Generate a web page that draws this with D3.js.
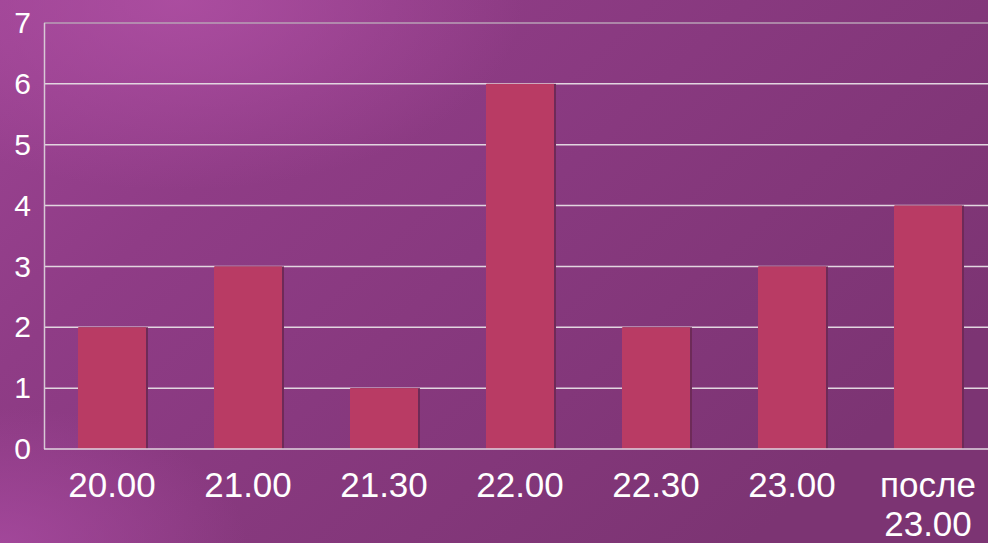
<!DOCTYPE html>
<html>
<head>
<meta charset="utf-8">
<script src="https://cdn.jsdelivr.net/npm/d3@7"></script>
<style>
  body { margin: 0; overflow: hidden; background: #8a3a80; }
  text { font-family: "Liberation Sans", Arial, sans-serif; fill: #fff; }
</style>
</head>
<body>
<div id="chart"></div>
<script>
var svgWidth = 988;
var svgHeight = 543;

var categories = ["20.00", "21.00", "21.30", "22.00", "22.30", "23.00", "после 23.00"];
var values = [2, 3, 1, 6, 2, 3, 4];
var yTicks = [0, 1, 2, 3, 4, 5, 6, 7];

var margin = { top: 23, right: -8, bottom: 94, left: 44 };
var width = svgWidth - margin.left - margin.right;
var height = svgHeight - margin.top - margin.bottom;

var svg = d3.select("#chart")
  .append("svg")
  .attr("width", svgWidth)
  .attr("height", svgHeight);

// background gradient
var defs = svg.append("defs");
var bg = defs.append("linearGradient")
  .attr("id", "bg")
  .attr("x1", "0%").attr("y1", "0%")
  .attr("x2", "100%").attr("y2", "60%");
bg.append("stop").attr("offset", "0%").attr("stop-color", "#9c4393");
bg.append("stop").attr("offset", "30%").attr("stop-color", "#8f3c86");
bg.append("stop").attr("offset", "100%").attr("stop-color", "#7c3473");

var glow = defs.append("radialGradient")
  .attr("id", "glow")
  .attr("cx", "18%").attr("cy", "0%").attr("r", "35%");
glow.append("stop").attr("offset", "0%").attr("stop-color", "#b050a4").attr("stop-opacity", 0.8);
glow.append("stop").attr("offset", "100%").attr("stop-color", "#b050a4").attr("stop-opacity", 0);

var glow2 = defs.append("radialGradient")
  .attr("id", "glow2")
  .attr("cx", "0%").attr("cy", "100%").attr("r", "25%");
glow2.append("stop").attr("offset", "0%").attr("stop-color", "#a84aa0").attr("stop-opacity", 0.8);
glow2.append("stop").attr("offset", "100%").attr("stop-color", "#a84aa0").attr("stop-opacity", 0);

svg.append("rect").attr("width", svgWidth).attr("height", svgHeight).attr("fill", "url(#bg)");
svg.append("rect").attr("width", svgWidth).attr("height", svgHeight).attr("fill", "url(#glow)");
svg.append("rect").attr("width", svgWidth).attr("height", svgHeight).attr("fill", "url(#glow2)");

var chartGroup = svg.append("g")
  .attr("transform", `translate(${margin.left}, ${margin.top})`);

var xBandScale = d3.scaleBand()
  .domain(categories)
  .range([0, width])
  .paddingInner(0.5)
  .paddingOuter(0.25);

var yLinearScale = d3.scaleLinear()
  .domain([0, 7])
  .range([height, 0]);

// gridlines
chartGroup.append("g")
  .selectAll("line")
  .data(yTicks.filter(d => d > 0))
  .enter()
  .append("line")
  .attr("x1", 0)
  .attr("x2", width)
  .attr("y1", d => yLinearScale(d))
  .attr("y2", d => yLinearScale(d))
  .attr("stroke", d => d === 7 ? "#b8a0b6" : "#e2d6e0")
  .attr("stroke-width", 1.5);

// bars (with dark edge)
chartGroup.append("g")
  .selectAll("rect")
  .data(values)
  .enter()
  .append("rect")
  .attr("x", (d, i) => xBandScale(categories[i]) + 1)
  .attr("y", d => yLinearScale(d))
  .attr("width", xBandScale.bandwidth() + 1)
  .attr("height", d => height - yLinearScale(d))
  .attr("fill", "#6e2a58");

chartGroup.append("g")
  .selectAll("rect")
  .data(values)
  .enter()
  .append("rect")
  .attr("x", (d, i) => xBandScale(categories[i]))
  .attr("y", d => yLinearScale(d))
  .attr("width", xBandScale.bandwidth())
  .attr("height", d => height - yLinearScale(d))
  .attr("fill", "#b93b64");

// axis lines
chartGroup.append("line")
  .attr("x1", 0.5).attr("x2", 0.5)
  .attr("y1", 0).attr("y2", height)
  .attr("stroke", "#d8c8d6").attr("stroke-width", 1.5);
chartGroup.append("line")
  .attr("x1", 0).attr("x2", width)
  .attr("y1", height).attr("y2", height)
  .attr("stroke", "#e2d6e0").attr("stroke-width", 1.5);

// y tick labels
var leftAxis = d3.axisLeft(yLinearScale)
  .tickValues(yTicks)
  .tickFormat(d3.format("d"))
  .tickSize(0)
  .tickPadding(13);
var yAxisG = chartGroup.append("g").call(leftAxis);
yAxisG.select(".domain").remove();
yAxisG.selectAll("text")
  .attr("font-size", "30px")
  .attr("font-family", null)
  .attr("fill", "#fff");

// x tick labels
var bottomAxis = d3.axisBottom(xBandScale).tickSize(0).tickPadding(0);
var xAxisG = chartGroup.append("g")
  .attr("transform", `translate(0, ${height})`)
  .call(bottomAxis);
xAxisG.select(".domain").remove();
xAxisG.selectAll("text").each(function(d) {
  var t = d3.select(this);
  var parts = d.split(" ");
  t.text(null)
    .attr("font-size", "35px")
    .attr("font-family", null)
    .attr("fill", "#fff")
    .attr("dy", null)
    .attr("y", 0);
  parts.forEach(function(p, j) {
    t.append("tspan")
      .attr("x", 0)
      .attr("y", j === 0 ? 48 : 87)
      .text(p);
  });
});
</script>
</body>
</html>
